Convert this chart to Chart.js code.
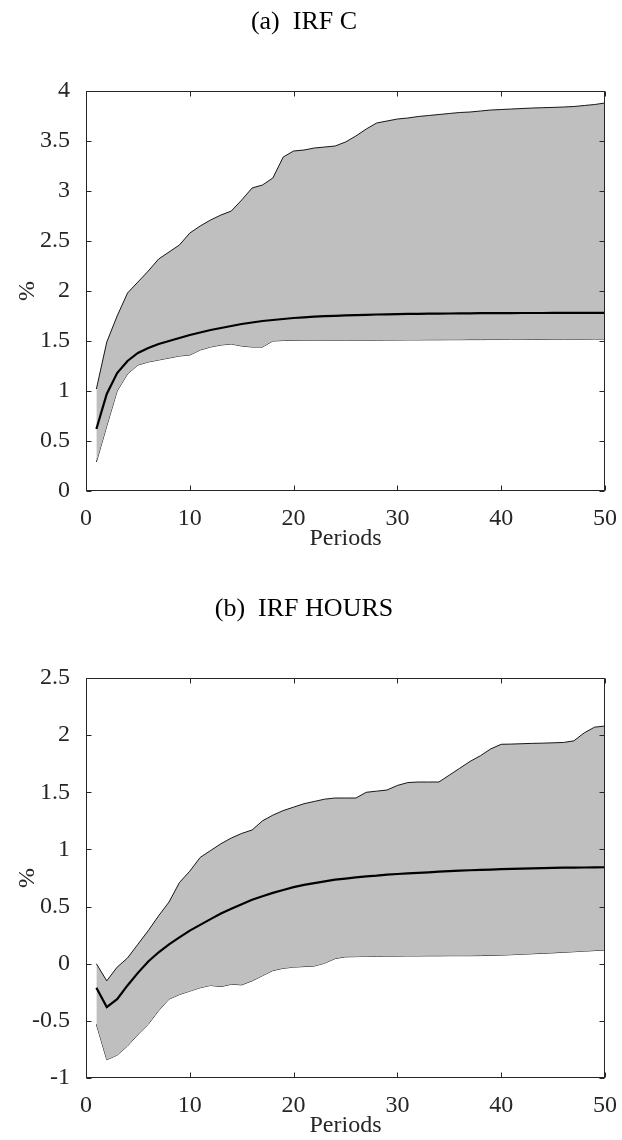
<!DOCTYPE html>
<html>
<head>
<meta charset="utf-8">
<script src="https://cdn.jsdelivr.net/npm/chart.js@4.4.1/dist/chart.umd.min.js"></script>
<style>
  html, body { margin: 0; padding: 0; background: #fff; }
  body { width: 622px; height: 1140px; position: relative; overflow: hidden; }
  .panel { position: absolute; left: 0; width: 622px; height: 553px; }
  #panelC { top: 0; }
  #panelH { top: 587px; }
</style>
</head>
<body>
<div class="panel" id="panelC"><canvas id="chartC" width="622" height="553"></canvas></div>
<div class="panel" id="panelH"><canvas id="chartH" width="622" height="553"></canvas></div>
<script>
// horizon
const periods = [1, 2, 3, 4, 5, 6, 7, 8, 9, 10,
  11, 12, 13, 14, 15, 16, 17, 18, 19, 20,
  21, 22, 23, 24, 25, 26, 27, 28, 29, 30,
  31, 32, 33, 34, 35, 36, 37, 38, 39, 40,
  41, 42, 43, 44, 45, 46, 47, 48, 49, 50];

// consumption response (%) with band
const cUpper = [1.02, 1.49, 1.75, 1.98, 2.09, 2.20, 2.32, 2.39, 2.46, 2.58,
  2.65, 2.71, 2.76, 2.80, 2.91, 3.03, 3.06, 3.13, 3.34, 3.40,
  3.41, 3.43, 3.44, 3.45, 3.49, 3.55, 3.62, 3.68, 3.70, 3.72,
  3.73, 3.745, 3.755, 3.765, 3.775, 3.785, 3.79, 3.80, 3.81, 3.815,
  3.82, 3.825, 3.83, 3.833, 3.836, 3.84, 3.845, 3.855, 3.865, 3.88];
const cMean = [0.62, 0.97, 1.18, 1.30, 1.38, 1.43, 1.47, 1.50, 1.53, 1.56,
  1.585, 1.61, 1.63, 1.65, 1.67, 1.685, 1.70, 1.71, 1.72, 1.73,
  1.737, 1.743, 1.748, 1.752, 1.756, 1.759, 1.762, 1.765, 1.767, 1.769,
  1.771, 1.772, 1.773, 1.774, 1.775, 1.776, 1.777, 1.778, 1.778, 1.779,
  1.779, 1.78, 1.78, 1.78, 1.781, 1.781, 1.781, 1.782, 1.782, 1.782];
const cLower = [0.29, 0.65, 1.00, 1.17, 1.26, 1.29, 1.31, 1.33, 1.35, 1.36,
  1.41, 1.44, 1.46, 1.47, 1.45, 1.44, 1.44, 1.50, 1.505, 1.507,
  1.508, 1.508, 1.508, 1.508, 1.508, 1.508, 1.509, 1.509, 1.51, 1.51,
  1.511, 1.511, 1.512, 1.512, 1.513, 1.513, 1.514, 1.514, 1.515, 1.515,
  1.516, 1.516, 1.517, 1.517, 1.518, 1.518, 1.519, 1.519, 1.52, 1.52];

// hours response (%) with band
const hUpper = [0.00, -0.15, -0.03, 0.05, 0.17, 0.29, 0.42, 0.54, 0.71, 0.81,
  0.93, 0.99, 1.05, 1.10, 1.14, 1.17, 1.25, 1.30, 1.34, 1.37,
  1.40, 1.42, 1.44, 1.45, 1.45, 1.45, 1.50, 1.51, 1.52, 1.56,
  1.585, 1.59, 1.59, 1.59, 1.65, 1.71, 1.77, 1.82, 1.88, 1.92,
  1.922, 1.925, 1.928, 1.93, 1.933, 1.936, 1.95, 2.02, 2.07, 2.08];
const hMean = [-0.21, -0.38, -0.31, -0.19, -0.08, 0.02, 0.10, 0.17, 0.23, 0.29,
  0.34, 0.39, 0.44, 0.48, 0.52, 0.56, 0.59, 0.62, 0.645, 0.67,
  0.69, 0.705, 0.72, 0.735, 0.745, 0.755, 0.765, 0.77, 0.78, 0.785,
  0.79, 0.795, 0.80, 0.805, 0.81, 0.815, 0.818, 0.821, 0.824, 0.827,
  0.83, 0.832, 0.834, 0.836, 0.838, 0.84, 0.841, 0.842, 0.843, 0.844];
const hLower = [-0.53, -0.84, -0.80, -0.72, -0.62, -0.53, -0.41, -0.31, -0.27, -0.24,
  -0.21, -0.19, -0.20, -0.18, -0.185, -0.15, -0.105, -0.06, -0.04, -0.03,
  -0.025, -0.02, 0.005, 0.045, 0.06, 0.062, 0.064, 0.065, 0.066, 0.067,
  0.068, 0.068, 0.069, 0.069, 0.07, 0.07, 0.07, 0.071, 0.073, 0.075,
  0.079, 0.083, 0.087, 0.091, 0.095, 0.10, 0.105, 0.11, 0.115, 0.12];

// tick values
const xTicks = [0, 10, 20, 30, 40, 50];
const cTicks = [0, 0.5, 1, 1.5, 2, 2.5, 3, 3.5, 4];
const hTicks = [-1, -0.5, 0, 0.5, 1, 1.5, 2, 2.5];

const serif = '"Liberation Serif", "Times New Roman", "DejaVu Serif", serif';
const axisColor = '#262626';
const bandColor = '#bfbfbf';

// frame around the axes with inward tick marks on all four sides
const boxTicks = {
  id: 'boxTicks',
  afterDraw(chart) {
    const { ctx, chartArea: a, scales: { x, y } } = chart;
    const len = 5;
    const l = Math.round(a.left) + 0.5, r = Math.round(a.right) - 0.5;
    const t = Math.round(a.top) + 0.5, b = Math.round(a.bottom) - 0.5;
    ctx.save();
    ctx.strokeStyle = axisColor;
    ctx.lineWidth = 1;
    ctx.strokeRect(l, t, r - l, b - t);
    ctx.beginPath();
    x.ticks.forEach(tk => {
      const px = Math.round(x.getPixelForValue(tk.value)) + 0.5;
      ctx.moveTo(px, b); ctx.lineTo(px, b - len);
      ctx.moveTo(px, t); ctx.lineTo(px, t + len);
    });
    y.ticks.forEach(tk => {
      const py = Math.round(y.getPixelForValue(tk.value)) + 0.5;
      ctx.moveTo(l, py); ctx.lineTo(l + len, py);
      ctx.moveTo(r, py); ctx.lineTo(r - len, py);
    });
    ctx.stroke();
    ctx.restore();
  }
};

function points(values) {
  return periods.map((p, i) => ({ x: p, y: values[i] }));
}

function makeChart(id, title, upper, mean, lower, yTicks) {
  const ctx = document.getElementById(id).getContext('2d');
  return new Chart(ctx, {
    type: 'line',
    data: {
      // mean first so it is painted over the shaded band
      datasets: [
        {
          data: points(mean),
          borderColor: '#000',
          borderWidth: 2.2,
          fill: false,
          pointRadius: 0,
          tension: 0
        },
        {
          data: points(upper),
          borderColor: '#000',
          borderWidth: 0.9,
          backgroundColor: bandColor,
          fill: '+1',
          pointRadius: 0,
          tension: 0
        },
        {
          data: points(lower),
          borderColor: '#000',
          borderWidth: 0.9,
          fill: false,
          pointRadius: 0,
          tension: 0
        }
      ]
    },
    options: {
      responsive: false,
      animation: false,
      devicePixelRatio: 1,
      layout: { padding: { left: 0, right: 14, top: 0, bottom: 0 } },
      plugins: {
        legend: { display: false },
        tooltip: { enabled: false },
        title: {
          display: true,
          text: title,
          color: '#000',
          font: { family: serif, size: 26, weight: 'normal' },
          padding: { top: 6.4, bottom: 53.4 }
        }
      },
      scales: {
        x: {
          type: 'linear',
          min: 0,
          max: 50,
          grid: { display: false },
          border: { display: false },
          afterBuildTicks: scale => { scale.ticks = xTicks.map(v => ({ value: v })); },
          afterFit: scale => { scale.height = 62; },
          ticks: {
            color: axisColor,
            padding: 5,
            maxRotation: 0,
            font: { family: serif, size: 24 },
            callback: v => String(v)
          },
          title: {
            display: true,
            text: 'Periods',
            color: axisColor,
            font: { family: serif, size: 24 },
            padding: { top: 0, bottom: 0 }
          }
        },
        y: {
          type: 'linear',
          min: yTicks[0],
          max: yTicks[yTicks.length - 1],
          grid: { display: false },
          border: { display: false },
          afterBuildTicks: scale => { scale.ticks = yTicks.map(v => ({ value: v })); },
          afterFit: scale => { scale.width = 86; },
          ticks: {
            color: axisColor,
            padding: 8,
            font: { family: serif, size: 24 },
            callback: v => String(v)
          },
          title: {
            display: true,
            text: '%',
            color: axisColor,
            font: { family: serif, size: 24 },
            padding: { top: 13, bottom: 0 }
          }
        }
      }
    },
    plugins: [boxTicks]
  });
}

makeChart('chartC', '(a)  IRF C', cUpper, cMean, cLower, cTicks);
makeChart('chartH', '(b)  IRF HOURS', hUpper, hMean, hLower, hTicks);
</script>
</body>
</html>
